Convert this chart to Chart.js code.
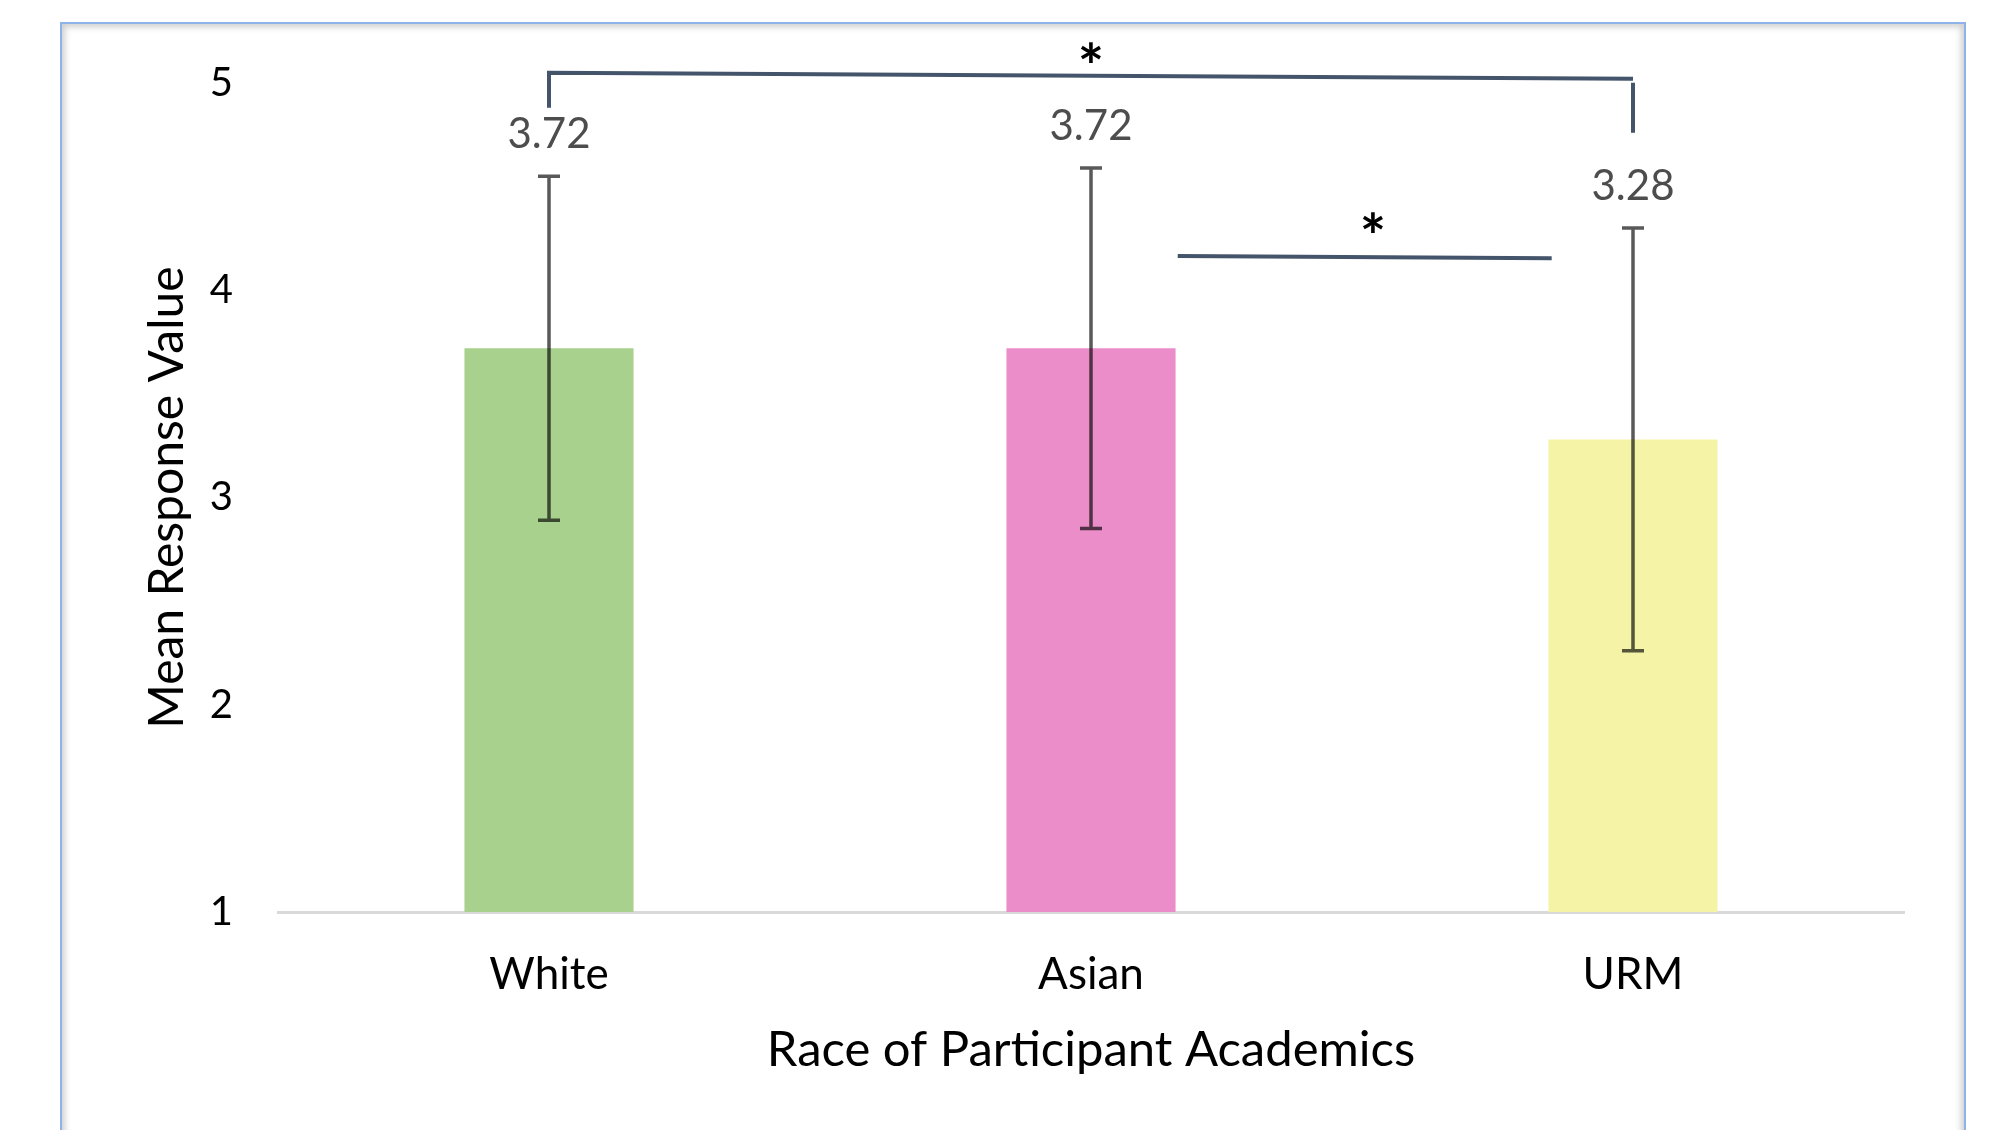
<!DOCTYPE html>
<html>
<head>
<meta charset="utf-8">
<script src="https://cdn.jsdelivr.net/npm/chart.js@4/dist/chart.umd.min.js"></script>
<style>
  html, body { margin: 0; padding: 0; background: #fff; width: 2001px; height: 1130px; overflow: hidden; }
  #frame {
    position: absolute; left: 60px; top: 22px; width: 1902px; height: 1200px;
    border: 2px solid #8db3e8;
    box-shadow: inset 0 0 6px 3px #cfcfcf;
  }
  #c { position: absolute; left: 0; top: 0; }
</style>
</head>
<body>
<div id="frame"></div>
<canvas id="c" width="2001" height="1130"></canvas>
<script>
// Mean response by race group, with error bars
const categories = ['White', 'Asian', 'URM'];
const meanValues = [3.72, 3.72, 3.28];
const errorValues = [0.83, 0.87, 1.02];
const barColors = ['#a9d18e', '#eb8dc8', '#f4f3a6'];
const yTickValues = [1, 2, 3, 4, 5];

// Significance markers (x in category index units, y in response units)
const bracketX = [0, 2];
const bracketTopY = [5.05, 5.02];
const bracketFootY = [4.88, 4.76];
const lineX = [1.16, 1.85];
const lineY = [4.165, 4.155];
const starX = [1.0, 1.52];
const starY = [5.125, 4.305];

const FONT = 'Lato, "Open Sans", sans-serif';
Chart.defaults.font.family = FONT;

const overlay = {
  id: 'overlay',
  afterDatasetsDraw(chart) {
    const { ctx, scales: { x, y } } = chart;
    ctx.save();

    // error bars and value labels
    meanValues.forEach((m, i) => {
      const px = x.getPixelForValue(i);
      const top = y.getPixelForValue(m + errorValues[i]);
      const bot = y.getPixelForValue(m - errorValues[i]);
      ctx.strokeStyle = 'rgba(0,0,0,0.65)';
      ctx.lineWidth = 3.5;
      ctx.beginPath();
      ctx.moveTo(px, top); ctx.lineTo(px, bot);
      ctx.moveTo(px - 11, top); ctx.lineTo(px + 11, top);
      ctx.moveTo(px - 11, bot); ctx.lineTo(px + 11, bot);
      ctx.stroke();

      ctx.fillStyle = '#4d4d4d';
      ctx.font = '42px ' + FONT;
      ctx.textAlign = 'center';
      ctx.textBaseline = 'middle';
      ctx.fillText(m.toFixed(2), px, top - 42);
    });

    // significance bracket White vs URM
    ctx.strokeStyle = '#44546a';
    ctx.lineWidth = 4;
    ctx.lineCap = 'butt';
    const bx0 = x.getPixelForValue(bracketX[0]);
    const bx1 = x.getPixelForValue(bracketX[1]);
    ctx.beginPath();
    ctx.moveTo(bx0, y.getPixelForValue(bracketFootY[0]));
    ctx.lineTo(bx0, y.getPixelForValue(bracketTopY[0]));
    ctx.lineTo(bx1, y.getPixelForValue(bracketTopY[1]));
    ctx.moveTo(bx1, y.getPixelForValue(bracketTopY[1]) + 4);
    ctx.lineTo(bx1, y.getPixelForValue(bracketFootY[1]));
    ctx.stroke();

    // significance line Asian vs URM
    ctx.beginPath();
    ctx.moveTo(x.getPixelForValue(lineX[0]), y.getPixelForValue(lineY[0]));
    ctx.lineTo(x.getPixelForValue(lineX[1]), y.getPixelForValue(lineY[1]));
    ctx.stroke();

    // asterisks
    ctx.fillStyle = '#000';
    ctx.font = 'bold 62px ' + FONT;
    ctx.textAlign = 'center';
    ctx.textBaseline = 'middle';
    starX.forEach((sx, i) => {
      ctx.fillText('*', x.getPixelForValue(sx), y.getPixelForValue(starY[i]) + 12);
    });

    ctx.restore();
  }
};

new Chart(document.getElementById('c'), {
  type: 'bar',
  data: {
    labels: categories,
    datasets: [{
      data: meanValues,
      backgroundColor: barColors,
      borderWidth: 0,
      barPercentage: 0.312,
      categoryPercentage: 1.0
    }]
  },
  options: {
    responsive: false,
    animation: false,
    devicePixelRatio: 1,
    layout: { padding: { top: 83, right: 97, left: 0, bottom: 0 } },
    plugins: { legend: { display: false }, tooltip: { enabled: false } },
    scales: {
      x: {
        grid: { display: false, drawTicks: false },
        border: { display: true, color: '#d9d9d9', width: 3 },
        ticks: { color: '#000', font: { size: 44 }, padding: 36 },
        title: {
          display: true, text: 'Race of Participant Academics', color: '#000',
          font: { size: 49 }, padding: { top: 0, bottom: 50 }
        },
        afterFit(scale) { scale.height = 218; }
      },
      y: {
        min: 1, max: 5,
        afterBuildTicks(scale) { scale.ticks = yTickValues.map(v => ({ value: v })); },
        grid: { display: false, drawTicks: false },
        border: { display: false },
        ticks: { color: '#000', font: { size: 40 }, padding: 45 },
        title: {
          display: true, text: 'Mean Response Value', color: '#000',
          font: { size: 48 }, padding: { top: 139, bottom: 0 }
        },
        afterFit(scale) { scale.width = 278; }
      }
    }
  },
  plugins: [overlay]
});
</script>
</body>
</html>
